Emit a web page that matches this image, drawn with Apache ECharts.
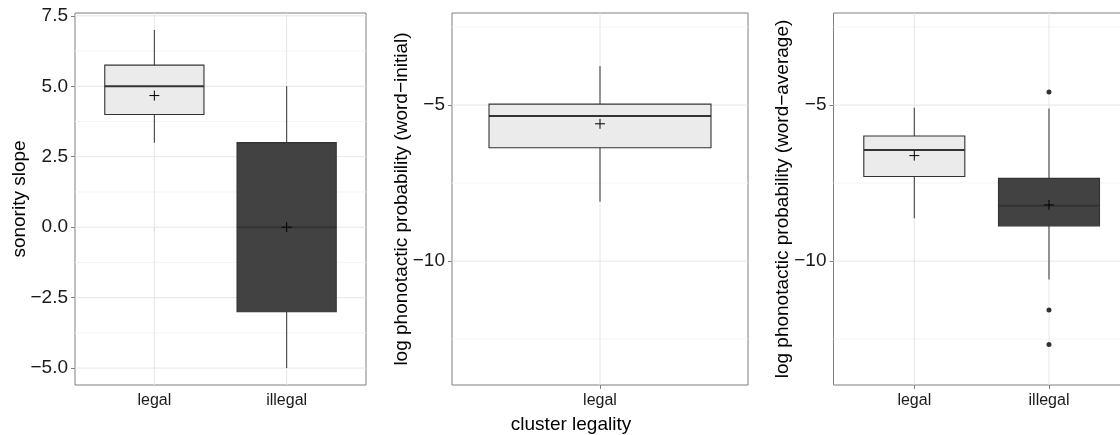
<!DOCTYPE html>
<html><head><meta charset="utf-8">
<script src="https://cdn.jsdelivr.net/npm/echarts@6/dist/echarts.min.js"></script>
<style>html,body{margin:0;padding:0;background:#fff}#c{width:1120px;height:435px}</style>
</head><body><div id="c"></div>
<script>
// ---- data ----
const categories1 = ['legal', 'illegal'];
const categories2 = ['legal'];
const categories3 = ['legal', 'illegal'];
// each box: [low whisker, Q1, median, Q3, high whisker, mean]
const sonorityBoxes = [[3, 4, 5, 5.75, 7, 4.67], [-5, -3, 0, 3, 5, 0]];
const initialBoxes = [[-8.1, -6.37, -5.35, -4.97, -3.75, -5.6]];
const averageBoxes = [[-8.63, -7.29, -6.44, -5.99, -5.09, -6.62], [-10.59, -8.87, -8.23, -7.35, -5.11, -8.2]];
const averageOutliers = [['illegal', -4.58], ['illegal', -11.57], ['illegal', -12.67]];
const yTicks1 = [-5, -2.5, 0, 2.5, 5, 7.5];
const yMinor1 = [-3.75, -1.25, 1.25, 3.75, 6.25];
const yTicks23 = [-10, -5];
const yMinor23 = [-12.5, -7.5, -2.5];
const yTitles = ['sonority slope', 'log phonotactic probability (word\u2212initial)', 'log phonotactic probability (word\u2212average)'];
const xTitle = 'cluster legality';
const fills = ['#ebebeb', '#424242'];

const FONT = '"Liberation Sans", Arial, Helvetica, sans-serif';
const panels = [
  {cats: categories1, boxes: sonorityBoxes, outliers: [], yMin: -5.6, yMax: 7.6, ticks: yTicks1, minor: yMinor1, bw: 0.75,
   grid: {left: 75, top: 13, width: 291, height: 372}, fmt: v => v.toFixed(1).replace('-', '\u2212')},
  {cats: categories2, boxes: initialBoxes, outliers: [], yMin: -13.97, yMax: -2.05, ticks: yTicks23, minor: yMinor23, bw: 0.9,
   grid: {left: 452, top: 13, width: 296, height: 372}, fmt: v => String(v).replace('-', '\u2212')},
  {cats: categories3, boxes: averageBoxes, outliers: averageOutliers, yMin: -13.97, yMax: -2.05, ticks: yTicks23, minor: yMinor23, bw: 0.75,
   grid: {left: 833.5, top: 13, width: 296.3, height: 372}, fmt: v => String(v).replace('-', '\u2212')}
];

const grids = [], xAxes = [], yAxes = [], series = [];
panels.forEach((p, i) => {
  grids.push(Object.assign({show: true, borderColor: '#7f7f7f', borderWidth: 1, backgroundColor: 'transparent',
    containLabel: false, outerBoundsMode: 'none'}, p.grid));
  const catPos = p.cats.map((c, k) => k + 1);
  xAxes.push({
    type: 'value', gridIndex: i, min: 0.4, max: p.cats.length + 0.6,
    axisLine: {show: false}, splitLine: {show: false},
    axisTick: {show: true, customValues: catPos, length: 4, lineStyle: {color: '#7f7f7f'}},
    axisLabel: {show: true, customValues: catPos, margin: 8, fontSize: 16, color: '#1a1a1a', fontFamily: FONT,
      formatter: v => p.cats[Math.round(v) - 1] || ''}
  });
  yAxes.push({
    type: 'value', gridIndex: i, min: p.yMin, max: p.yMax,
    axisLine: {show: false}, splitLine: {show: false},
    axisTick: {show: true, customValues: p.ticks, length: 4, lineStyle: {color: '#7f7f7f'}},
    axisLabel: {show: true, customValues: p.ticks, margin: 7, fontSize: 19, color: '#1a1a1a', fontFamily: FONT, formatter: p.fmt}
  });
  // gridlines
  const gl = [];
  p.minor.forEach(v => gl.push([0.4, v, 1]));
  p.ticks.forEach(v => gl.push([0.4, v, 0]));
  catPos.forEach(c => gl.push([c, p.yMin, 2]));
  series.push({
    type: 'custom', xAxisIndex: i, yAxisIndex: i, z: 1, silent: true, data: gl,
    renderItem: (params, api) => {
      const cs = params.coordSys;
      const t = api.value(2);
      if (t === 2) {
        const pt = api.coord([api.value(0), p.yMin]);
        return {type: 'line', shape: {x1: pt[0], y1: cs.y, x2: pt[0], y2: cs.y + cs.height}, style: {stroke: '#e6e6e6', lineWidth: 1}};
      }
      const pt = api.coord([0.4, api.value(1)]);
      return {type: 'line', shape: {x1: cs.x, y1: pt[1], x2: cs.x + cs.width, y2: pt[1]},
        style: {stroke: t === 0 ? '#e6e6e6' : '#f5f5f5', lineWidth: 1}};
    }
  });
  // boxes
  const bd = p.boxes.map((b, k) => [k + 1].concat(b).concat([k]));
  series.push({
    type: 'custom', xAxisIndex: i, yAxisIndex: i, z: 3, data: bd,
    renderItem: (params, api) => {
      const x = api.value(0), low = api.value(1), q1 = api.value(2), med = api.value(3), q3 = api.value(4), high = api.value(5), mean = api.value(6);
      const fill = fills[api.value(7)];
      const tl = api.coord([x - p.bw / 2, q3]), br = api.coord([x + p.bw / 2, q1]);
      const top = api.coord([x, high]), bot = api.coord([x, low]);
      const mL = api.coord([x - p.bw / 2, med]), mR = api.coord([x + p.bw / 2, med]);
      const m = api.coord([x, mean]);
      return {type: 'group', children: [
        {type: 'line', shape: {x1: top[0], y1: top[1], x2: bot[0], y2: bot[1]}, style: {stroke: '#444444', lineWidth: 1.1}},
        {type: 'rect', shape: {x: tl[0], y: tl[1], width: br[0] - tl[0], height: br[1] - tl[1]}, style: {fill: fill, stroke: '#333333', lineWidth: 1.1}},
        {type: 'line', shape: {x1: mL[0], y1: mL[1], x2: mR[0], y2: mR[1]}, style: {stroke: '#333333', lineWidth: 2}},
        {type: 'line', shape: {x1: m[0] - 5, y1: m[1], x2: m[0] + 5, y2: m[1]}, style: {stroke: '#000', lineWidth: 1}},
        {type: 'line', shape: {x1: m[0], y1: m[1] - 5, x2: m[0], y2: m[1] + 5}, style: {stroke: '#000', lineWidth: 1}}
      ]};
    }
  });
  if (p.outliers.length) {
    series.push({
      type: 'scatter', xAxisIndex: i, yAxisIndex: i, z: 4, symbol: 'circle', symbolSize: 5,
      itemStyle: {color: '#000'},
      data: p.outliers.map(o => [p.cats.indexOf(o[0]) + 1, o[1]])
    });
  }
});

const graphics = [];
const titleX = [20, 402, 783];
yTitles.forEach((t, i) => graphics.push({
  type: 'text', x: titleX[i], y: 199, rotation: Math.PI / 2,
  style: {text: t, fontSize: 19, fontFamily: FONT, fill: '#000', align: 'center', verticalAlign: 'middle'}
}));
graphics.push({type: 'text', x: 571, y: 425,
  style: {text: xTitle, fontSize: 19, fontFamily: FONT, fill: '#000', align: 'center', verticalAlign: 'middle'}});

const chart = echarts.init(document.getElementById('c'), null, {renderer: 'canvas'});
chart.setOption({
  animation: false, backgroundColor: '#fff',
  grid: grids, xAxis: xAxes, yAxis: yAxes, series: series, graphic: graphics
});
</script></body></html>
